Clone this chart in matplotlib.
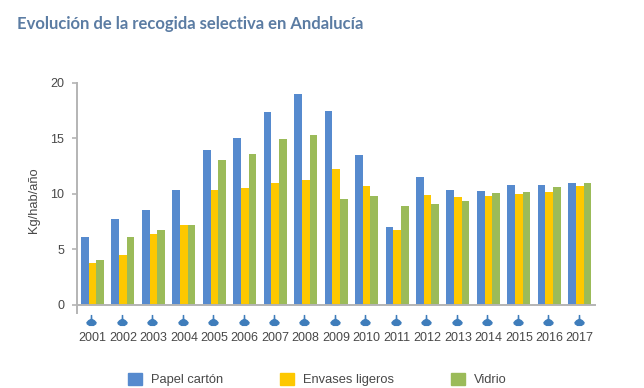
import numpy as np
import matplotlib
matplotlib.use("Agg")
import matplotlib.pyplot as plt
from matplotlib.path import Path
from matplotlib.patches import Patch

years = [2001, 2002, 2003, 2004, 2005, 2006, 2007, 2008, 2009,
         2010, 2011, 2012, 2013, 2014, 2015, 2016, 2017]
papel = [6.1, 7.7, 8.5, 10.3, 13.9, 15.0, 17.4, 19.0, 17.45,
         13.5, 7.0, 11.5, 10.3, 10.2, 10.8, 10.8, 11.0]
envases = [3.75, 4.5, 6.4, 7.2, 10.3, 10.5, 11.0, 11.2, 12.2,
           10.7, 6.7, 9.9, 9.7, 9.8, 10.0, 10.15, 10.7]
vidrio = [4.0, 6.1, 6.7, 7.2, 13.0, 13.6, 14.9, 15.3, 9.5,
          9.8, 8.9, 9.05, 9.35, 10.05, 10.15, 10.6, 11.0]
yticks = [0, 5, 10, 15, 20]

BLUE = "#568ace"
YELLOW = "#fdc800"
GREEN = "#9bbb59"
GRAY = "#b4b4b4"
TEXT = "#484848"

plt.rcParams["font.family"] = "Liberation Sans"

W, H = 644, 388
fig = plt.figure(figsize=(W / 100, H / 100), dpi=100)
ax = fig.add_axes([77.3 / W, 1 - 304.7 / H, (595 - 77.3) / W, 222 / H])

x = np.arange(len(years))
w = 0.252
ax.bar(x - w, papel, w, color=BLUE)
ax.bar(x, envases, w, color=YELLOW)
ax.bar(x + w, vidrio, w, color=GREEN)

ax.set_xlim(-0.5, len(years) - 0.5)
ax.set_ylim(0, 20)
ax.set_yticks(yticks)
ax.set_xticks(x)
ax.set_xticklabels(years)
ax.tick_params(axis="x", length=0, pad=20, labelsize=9, labelcolor=TEXT)
ax.tick_params(axis="y", length=3.6, width=1.2, color=GRAY, pad=5.8, labelsize=9, labelcolor=TEXT)
ax.set_ylabel("Kg/hab/año", fontsize=9.3, color=TEXT)
ax.yaxis.set_label_coords((40 - 77.3) / (595 - 77.3), 0.47)

for s in ["top", "right"]:
    ax.spines[s].set_visible(False)
for s in ["left", "bottom"]:
    ax.spines[s].set_color(GRAY)
    ax.spines[s].set_linewidth(1.4)
# eje vertical sigue un poco por debajo del cero
ax.plot([0, 0], [0, -0.036], transform=ax.transAxes, color=GRAY, lw=1.4, clip_on=False)

# marcador en forma de gota sobre cada año
pin = Path([(-0.13, 1.0), (0.13, 1.0), (0.16, 0.3), (0.6, 0.05), (0.95, -0.35), (0.85, -0.7),
            (0.4, -1.0), (-0.4, -1.0), (-0.85, -0.7), (-0.95, -0.35), (-0.6, 0.05),
            (-0.16, 0.3), (-0.13, 1.0)], closed=True)
ax.plot(x - 0.04, np.full(len(x), -0.07), ls="none", marker=pin, ms=8, color="#3f7dbb",
        mew=0, transform=ax.get_xaxis_transform(), clip_on=False)

handles = [Patch(color=BLUE), Patch(color=YELLOW), Patch(color=GREEN)]
fig.legend(handles, ["Papel cartón", "Envases ligeros", "Vidrio"], ncol=3, frameon=False,
           loc="center left", bbox_to_anchor=(128 / W, 1 - 379.5 / H), fontsize=9.3,
           labelcolor=TEXT, handlelength=1.07, handleheight=1.07, handletextpad=0.72,
           columnspacing=4.4, borderpad=0, borderaxespad=0)

fig.text(17 / W, 1 - 24 / H, "Evolución de la recogida selectiva en Andalucía", fontsize=12,
         family="Lato", weight="bold", color="#5b7ca3", va="center", ha="left")

fig.savefig("out.png", dpi=100)
